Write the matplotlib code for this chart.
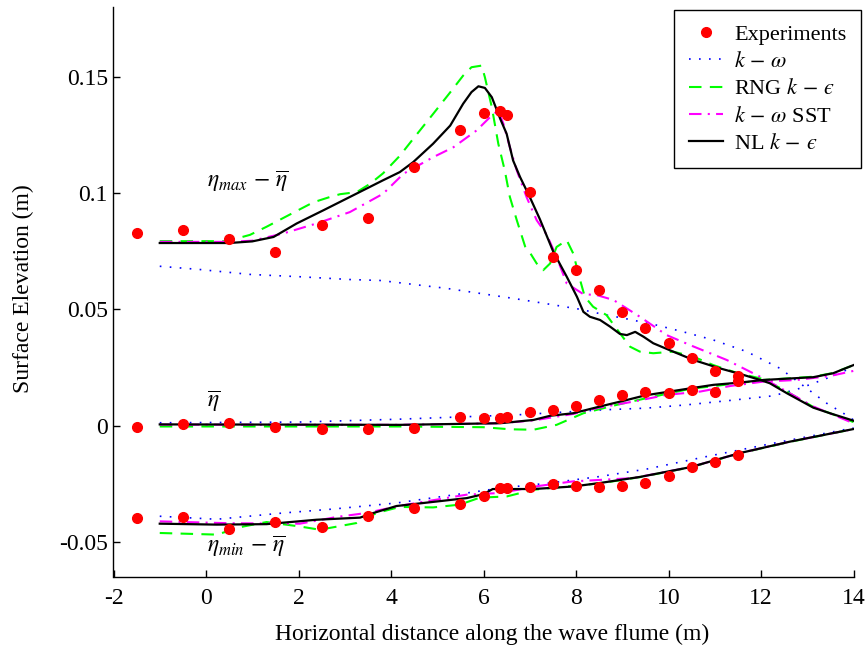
import matplotlib
matplotlib.use("Agg")
import matplotlib.pyplot as plt
from matplotlib.ticker import FixedLocator, FixedFormatter

plt.rcParams['font.family'] = ['Liberation Serif', 'DejaVu Serif']
plt.rcParams['mathtext.fontset'] = 'stix'
plt.rcParams['axes.unicode_minus'] = False

# ---------------- data ----------------
exp_x = [-1.5, -0.5, 0.5, 1.5, 2.5, 3.5, 4.5, 5.5, 6.0, 6.35, 6.5, 7.0, 7.5, 8.0,
         8.5, 9.0, 9.5, 10.0, 10.5, 11.0, 11.5]
exp_max = [0.0826, 0.0839, 0.0801, 0.0747, 0.0861, 0.0894, 0.1112, 0.1272, 0.1343,
           0.1351, 0.1336, 0.1003, 0.0727, 0.0668, 0.0581, 0.0489, 0.0418, 0.0354,
           0.0292, 0.0236, 0.0212]
exp_mean = [-0.0007, 0.0006, 0.0010, -0.0008, -0.0013, -0.0016, -0.0009, 0.0036,
            0.0034, 0.0032, 0.0036, 0.0059, 0.0067, 0.0085, 0.0110, 0.0132, 0.0143,
            0.0139, 0.0153, 0.0144, 0.0192]
exp_min = [-0.0399, -0.0392, -0.0445, -0.0415, -0.0438, -0.0388, -0.0355, -0.0337,
           -0.0305, -0.0269, -0.0269, -0.0263, -0.0252, -0.0262, -0.0265, -0.0259,
           -0.0245, -0.0216, -0.0180, -0.0155, -0.0126]

# k - omega (blue dotted)
kw_max_x = [-1, -0.13, 0.95, 2.03, 3.11, 3.76, 4.19, 5.2, 6.64, 7.33, 8.09, 8.66,
            9.02, 9.74, 10.32, 10.97, 11.69, 12.41, 12.99, 13.42, 13.78, 14.0]
kw_max_y = [0.0685, 0.0671, 0.0650, 0.0640, 0.0628, 0.0624, 0.0614, 0.0590, 0.0547,
            0.0525, 0.0500, 0.0475, 0.0462, 0.0432, 0.0403, 0.0368, 0.0318, 0.0246,
            0.0160, 0.0096, 0.0053, 0.0024]
kw_mean_x = [-1, 2, 4.12, 6.72, 8.52, 9.53, 10.39, 11.33, 12.27, 12.84, 13.42, 13.85, 14.0]
kw_mean_y = [0.0012, 0.0015, 0.0027, 0.0046, 0.0067, 0.0075, 0.0089, 0.0108, 0.0128,
             0.0160, 0.0203, 0.0239, 0.0245]
kw_min_x = [-1, 0.23, 1.67, 2.75, 4.12, 5.64, 6.36, 7.44, 8.52, 9.53, 10.83, 12.27, 14.0]
kw_min_y = [-0.0390, -0.0403, -0.0376, -0.0359, -0.0333, -0.0290, -0.0269, -0.0247,
            -0.0219, -0.0187, -0.0133, -0.0076, -0.0010]

# RNG k - eps (green dashed)
rng_max_x = [-1, 0.45, 0.95, 1.31, 1.53, 2.03, 2.32, 2.68, 2.9, 3.26, 3.55, 3.83,
             4.19, 4.48, 4.91, 5.28, 5.56, 5.74, 5.96, 6.03, 6.18, 6.32, 6.46, 6.57,
             6.72, 6.9, 7.0, 7.15, 7.29, 7.44, 7.58, 7.8, 7.94, 8.09, 8.19, 8.37,
             8.66, 8.95, 9.17, 9.38, 9.67, 10.1, 10.54, 10.97, 11.5, 12.05, 12.56,
             13.13, 14.0]
rng_max_y = [0.0793, 0.0793, 0.0820, 0.0855, 0.0878, 0.0930, 0.0960, 0.0983, 0.0995,
             0.1004, 0.1040, 0.1085, 0.1160, 0.1233, 0.1340, 0.1433, 0.1505, 0.1541,
             0.1548, 0.1498, 0.1369, 0.1212, 0.1097, 0.0983, 0.0883, 0.0770, 0.0745,
             0.0697, 0.0668, 0.0697, 0.0768, 0.0797, 0.0740, 0.0625, 0.0554, 0.0511,
             0.0475, 0.0397, 0.0339, 0.0318, 0.0311, 0.0318, 0.0296, 0.0260, 0.0225,
             0.0200, 0.0146, 0.0080, 0.0015]
rng_mean_x = [-1, 4.19, 5.99, 6.57, 7.08, 7.58, 8.16, 8.88, 9.53, 10.47, 11.55, 12.05,
              13.13, 13.56, 14.0]
rng_mean_y = [-0.0004, -0.0004, -0.0007, -0.0016, -0.0018, 0.0003, 0.0053, 0.0089,
              0.0118, 0.0158, 0.0183, 0.0196, 0.0210, 0.0226, 0.0260]
rng_min_x = [-1, 0.23, 0.81, 1.31, 2.03, 2.46, 3.26, 3.69, 4.19, 4.91, 5.49, 5.92,
             6.5, 7.08, 7.8, 8.5, 9.38, 10.47, 11.55, 12.63, 14.0]
rng_min_y = [-0.0462, -0.0469, -0.0434, -0.0415, -0.0434, -0.0448, -0.0419, -0.0376,
             -0.0350, -0.0352, -0.0340, -0.0310, -0.0305, -0.0276, -0.0262, -0.0249,
             -0.0222, -0.0180, -0.0119, -0.0070, -0.0015]

# k - omega SST (magenta dash-dot)
sst_max_x = [-1, 0.5, 1.0, 1.67, 2.39, 3.11, 3.83, 4.27, 4.91, 5.35, 5.85, 6.14, 6.32,
             6.43, 6.57, 6.72, 6.93, 7.15, 7.37, 7.58, 7.8, 8.16, 8.45, 8.81, 9.38,
             9.96, 10.54, 11.26, 12.05, 12.56, 13.13, 14.0]
sst_max_y = [0.0790, 0.0790, 0.0795, 0.0826, 0.0869, 0.0918, 0.0997, 0.1083, 0.1154,
             0.1197, 0.1269, 0.1326, 0.1355, 0.1298, 0.1197, 0.1097, 0.0983, 0.0883,
             0.0820, 0.0725, 0.0611, 0.0565, 0.0561, 0.0540, 0.0468, 0.0389, 0.0340,
             0.0282, 0.0203, 0.0146, 0.0082, 0.0010]
sst_mean_x = [-1, 4.19, 6.36, 7.08, 7.94, 8.52, 9.24, 9.96, 10.68, 11.33, 12.05, 12.77,
              13.49, 14.0]
sst_mean_y = [0.0004, 0.0003, 0.0010, 0.0022, 0.0050, 0.0078, 0.0103, 0.0132, 0.0146,
              0.0170, 0.0189, 0.0196, 0.0213, 0.0235]
sst_min_x = [-1, 0.5, 2.03, 2.83, 3.47, 4.19, 5.64, 6.36, 7.22, 7.94, 9.24, 10.47,
             11.55, 12.63, 14.0]
sst_min_y = [-0.0412, -0.0420, -0.0422, -0.0393, -0.0376, -0.0345, -0.0297, -0.0290,
             -0.0259, -0.0240, -0.0226, -0.0179, -0.0118, -0.0069, -0.0015]

# NL k - eps (black solid)
nl_max_x = [-1, 0.5, 1.0, 1.46, 1.96, 2.54, 3.11, 3.83, 4.19, 4.48, 4.91, 5.28, 5.56,
            5.74, 5.89, 6.03, 6.18, 6.36, 6.5, 6.64, 6.79, 7.0, 7.22, 7.51, 7.8, 8.02,
            8.16, 8.3, 8.52, 8.74, 8.95, 9.1, 9.28, 9.46, 9.67, 10.1, 10.54, 11.11,
            11.55, 12.0, 12.19, 12.56, 13.13, 13.49, 14.0]
nl_max_y = [0.0785, 0.0785, 0.0792, 0.0811, 0.0869, 0.0926, 0.0983, 0.1055, 0.1090,
            0.1133, 0.1212, 0.1290, 0.1384, 0.1434, 0.1459, 0.1452, 0.1412, 0.1320,
            0.1255, 0.1140, 0.1069, 0.0983, 0.0887, 0.0747, 0.0640, 0.0554, 0.0489,
            0.0468, 0.0454, 0.0425, 0.0394, 0.0389, 0.0403, 0.0382, 0.0354, 0.0318,
            0.0282, 0.0246, 0.0222, 0.0195, 0.0182, 0.0139, 0.0077, 0.0053, 0.0021]
nl_mean_x = [-1, 2, 4.19, 6.36, 7.08, 7.44, 7.94, 8.52, 9.1, 9.5, 10.47, 10.97, 11.55,
             12.05, 13.13, 13.56, 14.0]
nl_mean_y = [0.0005, 0.0004, 0.0003, 0.0010, 0.0024, 0.0042, 0.0053, 0.0082, 0.0110,
             0.0130, 0.0160, 0.0175, 0.0185, 0.0196, 0.0208, 0.0225, 0.0260]
nl_min_x = [-1, 0.23, 1.31, 2.39, 3.33, 3.62, 4.12, 5.64, 6.0, 6.2, 7.08, 7.94, 8.52,
            9.38, 10.47, 11.55, 12.63, 14.0]
nl_min_y = [-0.0422, -0.0426, -0.0424, -0.0405, -0.0396, -0.0376, -0.0346, -0.0312,
            -0.0295, -0.0273, -0.0273, -0.0262, -0.0247, -0.0221, -0.0179, -0.0118,
            -0.0069, -0.0015]

x_ticks = [-2, 0, 2, 4, 6, 8, 10, 12, 14]
x_tick_labels = ['-2', '0', '2', '4', '6', '8', '10', '12', '14']
y_ticks = [-0.05, 0, 0.05, 0.1, 0.15]
y_tick_labels = ['-0.05', '0', '0.05', '0.1', '0.15']

# ---------------- figure ----------------
fig = plt.figure(figsize=(8.65, 6.51), dpi=100)
ax = fig.add_axes([113.5 / 865, 1 - 576.7 / 651, 740 / 865, 569.7 / 651])

FS = 17
LFS = 16

sty_kw = dict(color='#0000ff', lw=1.2, ls=(0, (1, 5)))
sty_rng = dict(color='#00ff00', lw=1.5, ls=(0, (6, 4)))
sty_sst = dict(color='#ff00ff', lw=1.5, ls=(0, (6, 3, 1, 3)))
sty_nl = dict(color='black', lw=1.6, ls='-')

h_kw, = ax.plot(kw_max_x, kw_max_y, label=r'$k\,-\,\omega$', **sty_kw)
ax.plot(kw_mean_x, kw_mean_y, **sty_kw)
ax.plot(kw_min_x, kw_min_y, **sty_kw)

h_rng, = ax.plot(rng_max_x, rng_max_y, label='RNG $k\\,-\\,\u03f5$', **sty_rng)
ax.plot(rng_mean_x, rng_mean_y, **sty_rng)
ax.plot(rng_min_x, rng_min_y, **sty_rng)

h_sst, = ax.plot(sst_max_x, sst_max_y, label=r'$k\,-\,\omega$ SST', **sty_sst)
ax.plot(sst_mean_x, sst_mean_y, **sty_sst)
ax.plot(sst_min_x, sst_min_y, **sty_sst)

h_nl, = ax.plot(nl_max_x, nl_max_y, label='NL $k\\,-\\,\u03f5$', **sty_nl)
ax.plot(nl_mean_x, nl_mean_y, **sty_nl)
ax.plot(nl_min_x, nl_min_y, **sty_nl)

dot = dict(ls='none', marker='o', ms=7, color='#ff0000', mec='#ff0000', zorder=5)
h_exp, = ax.plot(exp_x, exp_max, label='Experiments', **dot)
ax.plot(exp_x, exp_mean, **dot)
ax.plot(exp_x, exp_min, **dot)

ax.set_xlim(-2, 14)
ax.set_ylim(-0.065, 0.18)
ax.xaxis.set_major_locator(FixedLocator(x_ticks))
ax.xaxis.set_major_formatter(FixedFormatter(x_tick_labels))
ax.yaxis.set_major_locator(FixedLocator(y_ticks))
ax.yaxis.set_major_formatter(FixedFormatter(y_tick_labels))
ax.spines['top'].set_visible(False)
ax.spines['right'].set_visible(False)
for s in ('left', 'bottom'):
    ax.spines[s].set_linewidth(1.0)
ax.tick_params(direction='in', length=5, width=1.0, labelsize=FS)
ax.tick_params(axis='x', pad=8)
ax.tick_params(axis='y', pad=4)

ax.set_xlabel('Horizontal distance along the wave flume (m)', fontsize=FS)
ax.xaxis.set_label_coords(0.5115, -0.082, transform=ax.transAxes)
ax.set_ylabel('Surface Elevation (m)', fontsize=FS)
ax.yaxis.set_label_coords(-0.107, 0.505, transform=ax.transAxes)

ax.text(0.02, 0.105, r'$\eta_{max}\,-\,\overline{\eta}$', fontsize=FS, va='center', ha='left')
ax.text(0.02, 0.0102, r'$\overline{\eta}$', fontsize=FS, va='center', ha='left')
ax.text(0.02, -0.052, r'$\eta_{min}\,-\,\overline{\eta}$', fontsize=FS, va='center', ha='left')

leg = ax.legend(handles=[h_exp, h_kw, h_rng, h_sst, h_nl], loc='upper right',
                bbox_to_anchor=(1.0101, 0.9947), borderaxespad=0, fontsize=LFS,
                fancybox=False, edgecolor='black', framealpha=1, numpoints=1,
                handlelength=1.55, handletextpad=0.5, labelspacing=0.3,
                borderpad=0.65)
leg.get_frame().set_linewidth(1.0)

fig.savefig('out.png', dpi=100)
